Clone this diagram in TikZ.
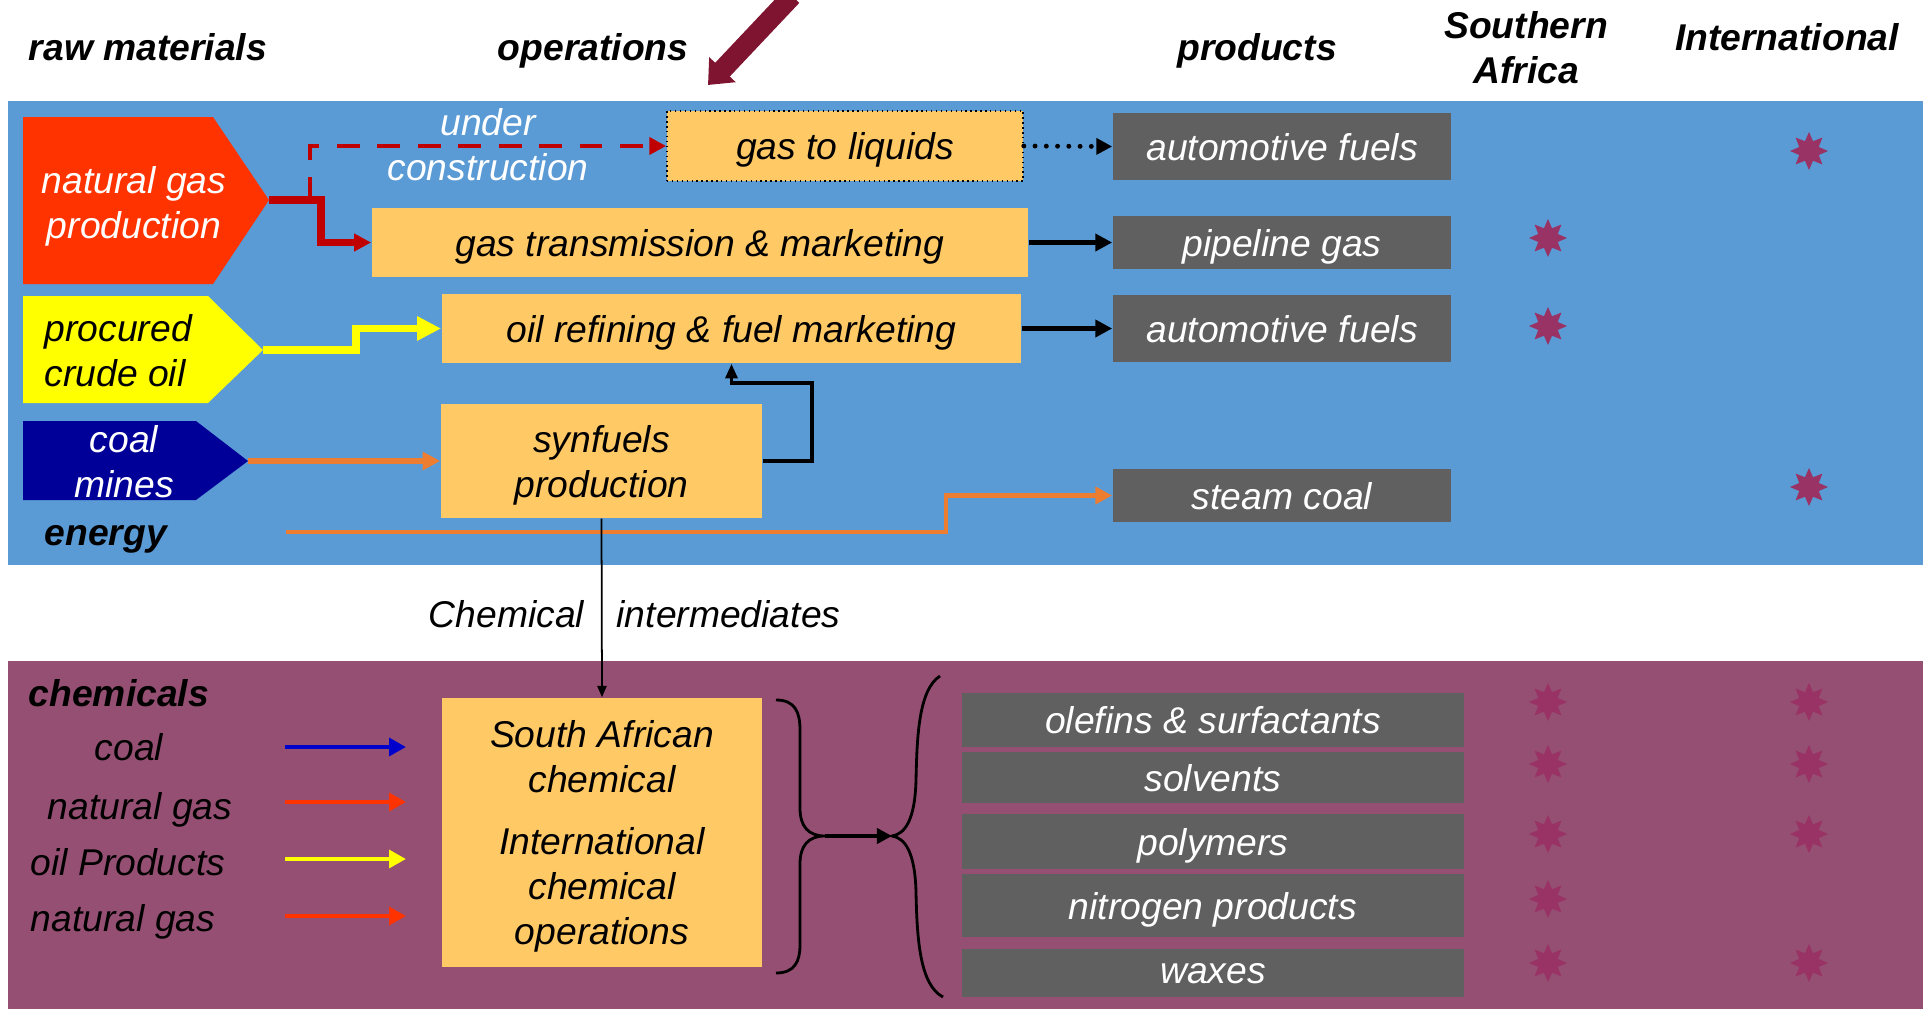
\documentclass[tikz,border=0pt]{standalone}
\usepackage{fontspec}
\setmainfont{Liberation Sans}
\usetikzlibrary{
	arrows.meta,
	shapes.geometric,
}

\definecolor{bandblue}{HTML}{5B9BD5}
\definecolor{bandplum}{HTML}{954F72}
\definecolor{gasred}{HTML}{FF3300}
\definecolor{crudeyellow}{HTML}{FFFF00}
\definecolor{coalblue}{HTML}{000099}
\definecolor{opfill}{HTML}{FFC966}
\definecolor{prodgrey}{HTML}{606060}
\definecolor{starpink}{HTML}{993366}
\definecolor{pipered}{HTML}{C00000}
\definecolor{coalorange}{HTML}{ED7D31}
\definecolor{chemblue}{HTML}{0000CC}
\definecolor{pointer}{HTML}{7F1431}

\tikzset{
	lbl/.style={font=\fontsize{10.6}{12.8}\selectfont\itshape, inner sep=0pt, text depth=0pt},
	head/.style={lbl, font=\fontsize{10.6}{12.8}\selectfont\bfseries\itshape, align=center},
	opbox/.style={lbl, fill=opfill, align=center},
	prodbox/.style={lbl, fill=prodgrey, text=white},
	site/.style={star, star points=8, star point ratio=1.8, fill=starpink, minimum size=0.38cm, inner sep=0pt},
	flow/.style={line width=1.3pt, -{Triangle[length=4.8pt,width=4.8pt]}},
	feed/.style={line width=1.4pt, -{Triangle[length=4.8pt,width=5pt]}},
}

\begin{document}
\begin{tikzpicture}[x=0.01cm, y=-0.01cm]
		\useasboundingbox (0,0) rectangle (1923,1009);
		% bands
		\fill [bandblue] (8,101) rectangle (1923,565);
		\fill [bandplum] (8,661) rectangle (1923,1009);
		% headings
		\node [head] (hraw) at (148,47) {raw materials};
		\node [head] (hops) at (593,47) {operations};
		\node [head] (hprod) at (1257,47) {products};
		\node [head] (hsa) at (1526,47) {Southern\\Africa};
		\node [head] (hint) at (1787,37) {International};
		\coordinate (hdtop) at (792,-4);
		\coordinate (hdtip) at (708,85);
		\draw [pointer, line width=5.7pt, -{Triangle[length=6pt,width=10pt]}] (hdtop) -- (hdtip);
		% raw materials
		\fill [gasred] (23,117) -- (213,117) -- (269,200) -- (213,284) -- (23,284) -- cycle;
		\fill [crudeyellow] (23,296) -- (208,296) -- (263,350) -- (208,403) -- (23,403) -- cycle;
		\fill [coalblue] (23,421) -- (196,421) -- (248,461) -- (196,500) -- (23,500) -- cycle;
		\node [lbl, text=white, align=center] (ngas) at (134,202) {natural gas\\production};
		\node [lbl, align=left, anchor=west] (crude) at (44,350) {procured\\crude oil};
		\node [lbl, text=white, align=center] (coal) at (124,461) {coal\\mines};
		\node [head, anchor=west] (energy) at (44,535) {energy};
		\coordinate (ngtip) at (269,200);
		\coordinate (ngfork) at (310,200);
		\coordinate (crtip) at (263,350);
		\coordinate (cmtip) at (248,461);
		\coordinate (enstart) at (286,532);
		% operations
		\node [opbox, minimum width=3.56cm, minimum height=0.70cm, draw=black, densely dotted, thin] (gtl) at (845,146) {gas to liquids};
		\node [opbox, minimum width=6.56cm, minimum height=0.69cm] (gtm) at (700,242.5) {gas transmission \& marketing};
		\node [opbox, minimum width=5.79cm, minimum height=0.69cm] (orf) at (731.5,328.5) {oil refining \& fuel marketing};
		\node [opbox, minimum width=3.21cm, minimum height=1.14cm] (syn) at (601.5,461) {synfuels\\production};
		\node [opbox, minimum width=3.20cm, minimum height=2.69cm] (chem) at (602,832.5) {South African\\chemical\\[5pt]International\\chemical\\operations};
		\node [lbl, text=white, align=center] (uc) at (488,144) {under\\construction};
		% products
		\node [prodbox, minimum width=3.38cm, minimum height=0.67cm] (af1) at (1282,146.5) {automotive fuels};
		\node [prodbox, minimum width=3.38cm, minimum height=0.53cm] (pipe) at (1282,242.5) {pipeline gas};
		\node [prodbox, minimum width=3.38cm, minimum height=0.67cm] (af2) at (1282,328.5) {automotive fuels};
		\node [prodbox, minimum width=3.38cm, minimum height=0.53cm] (steam) at (1282,495.5) {steam coal};
		\node [prodbox, minimum width=5.01cm, minimum height=0.54cm] (olef) at (1213,720) {olefins \& surfactants};
		\node [prodbox, minimum width=5.01cm, minimum height=0.51cm] (solv) at (1213,777.5) {solvents};
		\node [prodbox, minimum width=5.01cm, minimum height=0.55cm] (poly) at (1213,841.5) {polymers};
		\node [prodbox, minimum width=5.01cm, minimum height=0.63cm] (nitro) at (1213,905.5) {nitrogen products};
		\node [prodbox, minimum width=5.01cm, minimum height=0.48cm] (wax) at (1213,973) {waxes};
		% markets
		\foreach \x/\y [count=\i] in {1809/151, 1548/238, 1548/326, 1809/487}
			\node [site] (es\i) at (\x,\y) {};
		\foreach \y [count=\i] in {702,764,834,899,963}
			\node [site] (sa\i) at (1548,\y) {};
		\foreach \y [count=\i] in {702,764,834,963}
			\node [site] (int\i) at (1809,\y) {};
		% energy flows
		\draw [line width=2pt, pipered, -{Triangle[length=4.8pt,width=4.8pt]}] (ngtip) -- ++(52,0) |- (gtm.west);
		\draw [line width=1.4pt, pipered, dash pattern=on 6.5pt off 5pt, -{Triangle[length=4.8pt,width=4.8pt]}] (ngfork) |- (gtl.west);
		\draw [line width=1.4pt, line cap=round, dash pattern=on 0pt off 3.2pt, -{Triangle[length=4.5pt,width=4.5pt]}] (gtl.east) -- (af1.west);
		\draw [flow] (gtm.east) -- (pipe.west);
		\draw [flow] (orf.east) -- (af2.west);
		\draw [line width=2.2pt, crudeyellow, -{Triangle[length=6.8pt,width=6.5pt]}] (crtip) -- ++(93,0) |- (orf.west);
		\draw [line width=1.7pt, coalorange, -{Triangle[length=5pt,width=5pt]}] (cmtip) -- (syn.west);
		\draw [line width=1.4pt, coalorange, -{Triangle[length=4.8pt,width=4.8pt]}] (enstart) -- ++(660,0) |- (steam.west);
		\draw [line width=1pt, -{Triangle[length=4.2pt,width=3.4pt]}] (syn.east) -- ++(49,0) -- ++(0,-78) -| (orf.south);
		\draw [line width=0.5pt, -{Triangle[length=3.2pt,width=2.6pt]}] (syn.south) -- (chem.north);
		\node [lbl, anchor=east] (ci1) at (585,614) {Chemical};
		\node [lbl, anchor=west] (ci2) at (616,614) {intermediates};
		% chemicals
		\node [head, anchor=west] (chemhd) at (28,693) {chemicals};
		\node [lbl] (icoal) at (129,747) {coal};
		\node [lbl] (igas1) at (140,806) {natural gas};
		\node [lbl] (ioil) at (128,862) {oil Products};
		\node [lbl] (igas2) at (123,918) {natural gas};
		\foreach \y/\c [count=\i] in {747/chemblue, 802/gasred, 859/crudeyellow, 916/gasred} {
			\coordinate (feed\i) at (285,\y);
			\draw [feed, \c] (feed\i) -- ++(121,0);
		}
		\coordinate (bt1) at (825,836);
		\coordinate (bt2) at (892,836);
		\draw [line width=0.8pt] (776,700) .. controls (795,700) and (800,712) .. (800,730) -- (800,808) .. controls (800,826) and (808,836) .. (bt1) .. controls (808,836) and (800,846) .. (800,864) -- (800,945) .. controls (800,961) and (795,973) .. (776,973);
		\draw [line width=0.8pt] (940,676) .. controls (918,690) and (917,740) .. (916,780) .. controls (915,820) and (905,834) .. (bt2) .. controls (905,838) and (915,852) .. (916,892) .. controls (917,940) and (920,985) .. (943,997);
		\draw [line width=1.2pt, -{Triangle[length=4.3pt,width=4.3pt]}] (bt1) -- (bt2);
\end{tikzpicture}
\end{document}
